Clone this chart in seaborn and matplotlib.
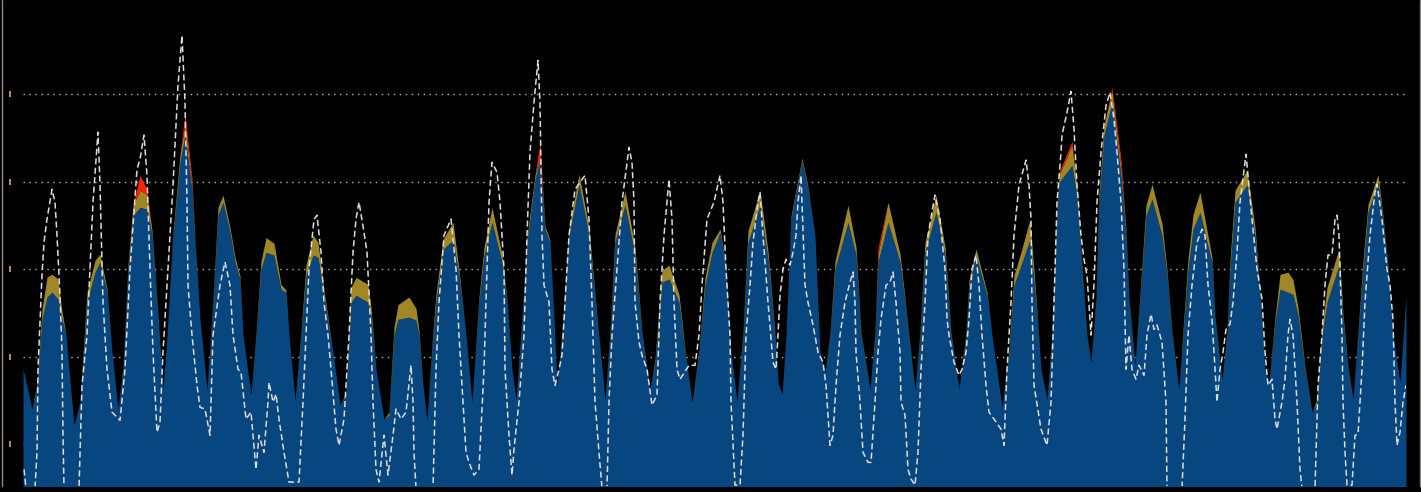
import matplotlib
matplotlib.use("Agg")
import matplotlib.pyplot as plt
import matplotlib.transforms as mtransforms
from matplotlib.lines import Line2D
import seaborn as sns
import pandas as pd

# sample index of the stacked areas
step = [23, 32, 37, 42, 47, 52, 58, 62, 66, 74,
        80, 87, 95, 100, 107, 112, 118,
        123, 128, 133, 140, 147, 152, 157, 163,
        167, 173, 180, 185, 192, 195, 200, 207,
        213, 218, 223, 230, 235, 240, 243, 251,
        256, 261, 266, 274, 281, 286, 289, 295,
        301, 306, 313, 318, 324, 333, 340,
        346, 351, 356, 368, 371, 376, 384,
        389, 394, 398, 409, 416, 419, 423, 427,
        433, 436, 443, 453, 459, 466, 472,
        479, 484, 492, 502, 507, 512, 516,
        522, 527, 535, 540, 545, 550, 554, 557,
        562, 569, 579, 589, 597, 605,
        610, 615, 625, 635, 642, 650,
        655, 662, 669, 679, 685, 692,
        699, 705, 712, 720, 726, 731, 737,
        743, 748, 760, 768, 775, 778, 782,
        786, 791, 802, 808, 815, 820, 825,
        830, 835, 848, 856, 861, 870,
        875, 878, 888, 900, 905, 915,
        920, 925, 936, 945, 951, 959,
        966, 969, 976, 987, 992, 1002,
        1009, 1014, 1021, 1030, 1036, 1041, 1047,
        1052, 1056, 1059, 1072, 1077, 1082, 1087, 1091,
        1096, 1099, 1104, 1112, 1121, 1126, 1129, 1135,
        1141, 1146, 1152, 1162, 1167, 1172, 1179,
        1183, 1188, 1193, 1200, 1207, 1212, 1215, 1222,
        1227, 1230, 1235, 1247, 1255, 1260, 1265, 1269,
        1275, 1280, 1288, 1293, 1298, 1305, 1312,
        1317, 1322, 1327, 1339, 1343, 1348, 1353,
        1358, 1363, 1368, 1378, 1383, 1388, 1393, 1400, 1406]

blue = [27.4, 18.1, 23.5, 38.6, 43.7, 44.8, 43.2, 38.6, 35.0, 14.4,
        19.7, 42.5, 49.4, 51.7, 44.8, 31.1, 18.1,
        27.2, 50.1, 62.4, 64.2, 63.8, 57.8, 42.5, 22.6,
        35.0, 57.8, 74.5, 80.7, 68.3, 56.2, 38.6, 22.6,
        42.5, 62.4, 65.4, 58.5, 51.7, 47.8, 35.0, 21.3,
        35.0, 50.1, 53.9, 53.3, 45.5, 44.8, 35.0, 20.1,
        35.0, 48.7, 53.3, 52.8, 44.1, 31.1, 19.0,
        21.3, 42.5, 44.1, 42.5, 39.5, 27.2, 15.8,
        16.7, 35.0, 38.6, 39.1, 38.4, 35.0, 23.5, 15.5,
        35.0, 42.5, 54.6, 56.7, 48.7, 35.0, 19.7,
        42.5, 53.3, 60.8, 51.7, 42.5, 27.2, 20.3,
        38.6, 56.2, 70.6, 75.2, 59.2, 56.2, 38.6, 23.5,
        35.0, 57.8, 69.5, 57.8, 38.6, 20.3,
        35.0, 56.2, 64.7, 53.3, 35.0, 22.4,
        28.8, 47.1, 47.8, 42.5, 31.1, 19.7,
        31.1, 46.4, 53.9, 58.5, 50.1, 31.1, 19.7,
        35.0, 56.2, 64.7, 52.3, 35.0, 24.2, 21.5,
        35.0, 61.5, 75.0, 68.3, 57.8, 31.1, 26.5,
        35.0, 50.1, 60.8, 53.3, 35.0, 22.6,
        35.0, 51.7, 60.8, 51.7, 42.5, 22.4,
        35.0, 53.9, 63.1, 53.3, 35.0, 22.6,
        35.0, 46.4, 53.3, 44.1, 35.0, 18.5,
        31.1, 46.4, 51.0, 56.9, 42.5, 27.2, 20.3,
        35.0, 57.8, 69.9, 73.8, 67.0, 50.1, 35.0, 28.8,
        42.5, 65.4, 80.7, 88.2, 71.5, 57.8, 42.5, 28.3,
        46.4, 62.4, 66.1, 57.8, 48.7, 35.0, 22.4,
        35.0, 50.1, 59.2, 63.1, 56.2, 51.7, 38.6, 24.9,
        35.0, 50.1, 65.4, 69.3, 57.8, 44.1, 27.2, 24.2,
        37.9, 45.5, 44.8, 44.3, 39.5, 27.2, 17.4,
        19.7, 35.0, 42.5, 51.0, 38.6, 27.2, 20.3,
        35.0, 50.1, 63.1, 69.9, 61.5, 50.1, 35.0, 24.2, 44.1]

olive = [0, 0, 0.5, 2.3, 4.6, 4.1, 4.6, 1.8, 0, 0,
         0, 2.3, 2.7, 1.8, 0.7, 0, 0,
         0.5, 1.1, 2.3, 3.9, 3.4, 1.1, 0.5, 0,
         0, 0.7, 1.8, 2.5, 1.1, 0.5, 0, 0,
         0.7, 1.8, 1.6, 1.1, 1.1, 0.7, 0, 0,
         0.5, 1.8, 3.4, 2.7, 1.1, 0.5, 0, 0,
         0.7, 2.3, 4.6, 3.4, 1.1, 0, 0,
         0.5, 3.4, 4.1, 4.1, 1.8, 0, 0,
         0.7, 1.8, 3.4, 4.6, 2.7, 1.1, 0, 0,
         1.1, 1.8, 2.3, 4.1, 1.1, 0, 0,
         1.1, 1.8, 3.4, 1.8, 0.5, 0, 0,
         0.5, 1.1, 1.1, 0.7, 0.7, 0.5, 0, 0,
         0.5, 1.8, 2.3, 1.8, 0.5, 0,
         0.7, 1.8, 3.2, 1.8, 0.5, 0,
         0.7, 2.7, 3.2, 1.8, 0.5, 0,
         0.5, 1.8, 2.3, 0.7, 0.5, 0, 0,
         0.7, 2.7, 3.4, 1.8, 0.5, 0, 0,
         0, 0.7, 0.5, 0.5, 0, 0, 0,
         0.5, 1.8, 3.9, 1.8, 0.5, 0,
         0.7, 1.8, 4.6, 1.8, 0.7, 0,
         0.7, 2.3, 3.9, 1.8, 0.5, 0,
         0.7, 1.1, 1.4, 0.7, 0, 0,
         0.7, 2.3, 3.0, 4.6, 1.1, 0, 0,
         0.5, 1.1, 1.6, 4.6, 1.8, 0.7, 0, 0,
         0.7, 1.8, 2.3, 2.7, 1.8, 1.1, 0.7, 0,
         1.1, 2.3, 3.4, 2.7, 1.1, 0.5, 0,
         1.1, 2.3, 3.4, 4.6, 2.7, 1.1, 0.5, 0,
         0.7, 1.8, 2.7, 3.4, 1.8, 0.7, 0, 0,
         1.1, 3.4, 4.6, 3.4, 1.8, 0.5, 0,
         0.7, 1.8, 3.4, 3.7, 1.1, 0.5, 0,
         0.7, 1.8, 1.8, 1.8, 0.7, 0.5, 0, 0, 0]

# the red layer only shows on a few peaks
red_spikes = {140: 3.4, 147: 1.1, 185: 2.3, 192: 1.4, 540: 3.0, 878: 1.4,
              1059: 0.7, 1072: 0.9, 1112: 0.7, 1121: 1.8}

# white dashed series
dash_step = [24, 26, 35, 37, 38, 42, 44, 47, 52, 55, 57, 60, 62, 63, 64,
             79, 82, 87, 90, 93, 98, 100, 103, 107, 112, 120, 125, 130, 137, 140, 144, 147, 150, 153, 157, 160, 163,
             168, 173, 178, 182, 185, 187, 188, 192, 197, 200, 205, 210, 213, 220, 225, 230, 233, 238, 241,
             246, 251, 256, 259, 264, 268, 269, 273, 276, 279, 284, 289, 299,
             303, 306, 309, 314, 317, 321, 324, 328, 331, 336, 339, 344, 349, 353, 356, 359, 364, 367, 369, 371, 373, 376, 379,
             384, 388, 393, 396, 401, 406, 411, 413, 414, 416, 433,
             436, 439, 444, 451, 456, 459, 463, 466, 469, 474, 479, 484, 487, 489, 492, 497, 500, 504, 505, 509, 512, 514,
             519, 524, 527, 530, 534, 538, 540, 541, 542, 544, 549, 552, 555, 559, 562, 565, 569, 575, 585, 589, 592, 595, 599, 602, 607,
             609, 612, 617, 622, 629, 632, 634, 635, 639, 642, 647, 652, 657, 660, 664, 669, 672, 674, 677, 680, 689, 695,
             699, 702, 707, 714, 720, 723, 726, 730, 731, 735, 740, 743,
             746, 750, 753, 758, 760, 763, 768, 773, 776, 778, 780, 783, 786, 790, 793, 796, 798, 801,
             805, 808, 813, 818, 823, 826, 830, 833, 836, 840, 845, 850, 853, 855, 856, 860, 863, 868, 871,
             875, 878, 881, 886, 890, 893, 896, 900, 901, 905, 908, 911, 915, 918,
             921, 925, 928, 935, 940, 945, 947, 949, 954, 959, 962, 966, 969, 972, 976, 979, 982, 986, 989, 994, 1001, 1004,
             1007, 1011, 1014, 1019, 1026, 1029, 1031, 1032, 1034, 1041, 1047, 1051,
             1054, 1057, 1061, 1062, 1067, 1071, 1074, 1077, 1081, 1084, 1087, 1091,
             1094, 1097, 1101, 1106, 1110, 1114, 1117, 1121, 1124, 1126, 1129, 1132, 1136, 1139, 1144, 1147, 1151, 1154, 1157, 1162, 1166, 1167,
             1182, 1185, 1188, 1192, 1197, 1202, 1205, 1208, 1212, 1215, 1217, 1220, 1223, 1226, 1230,
             1233, 1237, 1240, 1246, 1248, 1252, 1257, 1262, 1265, 1268, 1272, 1275, 1277, 1282, 1285, 1288, 1290, 1293, 1297, 1300, 1302,
             1315, 1318, 1322, 1325, 1328, 1332, 1335, 1337, 1339, 1342, 1343, 1345, 1347, 1352, 1355, 1358,
             1362, 1365, 1370, 1375, 1377, 1382, 1387, 1390, 1393, 1395, 1397, 1400, 1403, 1406]

dash_value = [4.3, 0, 0, 8.2, 27.2, 48.7, 56.2, 61.5, 68.3, 65.4, 57.8, 44.1, 31.1, 12.1, 0,
              0, 23.5, 35.0, 50.1, 65.4, 81.4, 69.3, 42.5, 27.2, 17.4, 15.5, 27.2, 50.1, 72.9, 75.2, 80.7, 71.5, 50.1, 31.1, 12.8, 15.1, 31.1,
              50.1, 69.3, 92.1, 103.5, 88.2, 65.4, 46.4, 35.0, 23.5, 18.5, 18.1, 12.1, 35.0, 46.4, 51.7, 46.4, 35.0, 27.2, 26.5,
              15.8, 17.4, 4.3, 12.1, 8.2, 19.7, 24.2, 19.7, 21.5, 15.8, 8.2, 1.4, 1.4,
              19.7, 35.0, 50.1, 61.5, 62.4, 53.9, 42.5, 35.0, 27.2, 13.5, 9.8, 15.8, 35.0, 53.9, 61.5, 65.4, 58.5, 53.9, 44.8, 35.0, 19.7, 4.3, 1.4,
              12.1, 3.0, 12.1, 18.1, 15.8, 17.4, 28.1, 19.7, 8.2, 0, 0,
              27.2, 42.5, 57.8, 61.5, 50.1, 35.0, 19.7, 8.2, 5.9, 3.0, 4.3, 27.2, 50.1, 65.4, 74.5, 72.2, 65.4, 50.1, 27.2, 12.1, 3.0, 8.9,
              19.7, 35.0, 57.8, 76.8, 88.2, 97.8, 88.2, 72.9, 57.8, 46.4, 42.5, 27.2, 23.5, 27.2, 30.4, 42.5, 57.8, 68.3, 71.5, 61.5, 42.5, 19.7, 8.2, 0, 0,
              19.7, 35.0, 50.1, 65.4, 77.9, 74.5, 65.4, 42.5, 33.4, 30.4, 27.2, 19.0, 21.3, 42.5, 57.8, 70.6, 61.5, 42.5, 27.2, 24.9, 28.1, 28.1,
              35.0, 46.4, 61.5, 65.4, 71.5, 65.4, 50.1, 35.0, 19.7, 0.7, 0.7, 12.1,
              35.0, 46.4, 56.2, 65.4, 67.7, 57.8, 42.5, 28.8, 27.2, 35.0, 44.1, 50.1, 52.3, 51.0, 53.9, 57.8, 65.4, 71.5,
              46.4, 42.5, 37.3, 31.1, 28.8, 23.5, 9.8, 12.1, 23.5, 35.0, 42.5, 47.1, 49.4, 42.5, 31.1, 19.7, 8.2, 5.9, 5.9,
              19.7, 31.1, 38.6, 46.4, 47.1, 49.4, 42.5, 31.1, 19.7, 16.7, 4.3, 2.1, 0.7, 8.2,
              27.2, 42.5, 57.8, 67.0, 61.5, 50.1, 38.6, 35.0, 28.8, 25.8, 27.2, 31.1, 38.6, 50.1, 53.3, 46.4, 35.0, 23.5, 17.4, 15.8, 13.5, 9.8,
              27.2, 42.5, 57.8, 69.3, 75.0, 69.3, 61.5, 42.5, 23.5, 13.5, 9.8, 19.7,
              42.5, 65.4, 76.8, 80.7, 85.9, 90.7, 82.1, 69.3, 57.8, 52.3, 48.7, 35.0,
              46.4, 65.4, 76.8, 87.5, 90.5, 84.3, 76.8, 65.4, 50.1, 27.2, 35.0, 27.2, 24.9, 28.1, 25.8, 35.0, 39.8, 36.3, 37.3, 33.4, 19.7, 0,
              0, 15.8, 35.0, 46.4, 56.2, 59.2, 57.8, 46.4, 38.6, 27.2, 19.7, 27.2, 31.1, 36.3, 37.5,
              42.5, 53.9, 65.4, 76.3, 71.5, 61.5, 50.1, 43.2, 31.1, 23.5, 24.9, 15.8, 13.5, 19.7, 24.9, 35.0, 38.6, 35.0, 19.7, 4.3, 0,
              0, 23.5, 35.0, 46.4, 53.3, 53.3, 61.5, 62.4, 57.8, 35.0, 19.7, 8.2, 0.7, 0.7, 12.1, 12.3,
              27.2, 42.5, 57.8, 67.7, 69.5, 61.5, 50.1, 46.4, 38.6, 19.7, 9.8, 12.8, 19.7, 23.5]

grid_levels = [10, 30, 50, 70, 90]

BLUE = "#08467f"
OLIVE = "#9f8726"
RED = "#ff2200"


if __name__ == "__main__":
    sns.set_theme(style="dark", rc={"axes.facecolor": "black",
                                    "figure.facecolor": "black"})

    red = [red_spikes.get(s, 0) for s in step]
    dash = pd.DataFrame({"step": dash_step, "value": dash_value})

    fig = plt.figure(figsize=(14.21, 4.92), dpi=100)
    ax = fig.add_axes([23 / 1421, 6 / 492, 1383 / 1421, 486 / 492])

    ax.stackplot(step, blue, olive, red, colors=[BLUE, OLIVE, RED],
                 linewidth=0, zorder=2)
    sns.lineplot(data=dash, x="step", y="value", ax=ax, color="#dcdcdc",
                 linewidth=1.1, linestyle=(0, (4, 2.2)), estimator=None,
                 sort=False, zorder=3)

    ax.set_xlim(23, 1406)
    ax.set_ylim(0.5, 111.6)
    ax.set_xticks([])
    ax.set_yticks(grid_levels)
    ax.set_yticklabels([])
    ax.set_xlabel("")
    ax.set_ylabel("")
    ax.tick_params(length=0)
    ax.set_axisbelow(True)
    ax.grid(axis="y", color="#b5b5b5", linestyle=(0, (1, 3.3)), linewidth=1)
    ax.grid(axis="x", visible=False)
    for sp in ax.spines.values():
        sp.set_visible(False)

    # little marks left of the axis at the grid levels
    trans = mtransforms.blended_transform_factory(ax.transAxes, ax.transData)
    ax.plot([-13 / 1383] * len(grid_levels), grid_levels, transform=trans,
            ls="none", marker="|", ms=4, mew=1.2, color="#d9a775", clip_on=False)

    # frame lines of the figure
    fig.add_artist(Line2D([2 / 1421, 2 / 1421], [6 / 492, 1], transform=fig.transFigure,
                          color="#8a8a8a", lw=1))
    fig.add_artist(Line2D([1419.5 / 1421, 1419.5 / 1421], [6 / 492, 1], transform=fig.transFigure,
                          color="#8a8a8a", lw=1))

    fig.savefig("out.png", dpi=100, facecolor="black")
